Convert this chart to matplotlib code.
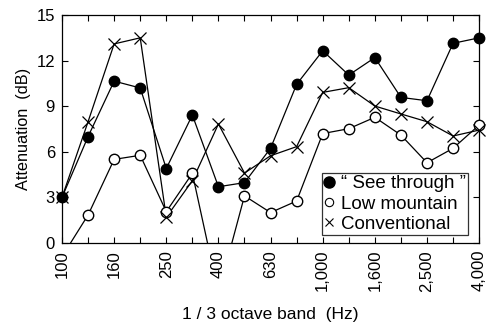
import numpy as np
import matplotlib
matplotlib.use('Agg')
import matplotlib.pyplot as plt
import matplotlib as mpl
from matplotlib.lines import Line2D

mpl.rcParams['font.family'] = ['Liberation Sans', 'DejaVu Sans']

bands = ['100', '125', '160', '200', '250', '315', '400', '500', '630', '800',
         '1,000', '1,250', '1,600', '2,000', '2,500', '3,150', '4,000']
see_through = [3.0, 7.0, 10.65, 10.2, 4.9, 8.42, 3.7, 3.97, 6.23, 10.44,
               12.65, 11.05, 12.2, 9.58, 9.36, 13.14, 13.5]
low_mountain = [-0.9, 1.84, 5.5, 5.77, 2.06, 4.58, -3.3, 3.1, 2.0, 2.76,
                7.2, 7.52, 8.27, 7.1, 5.28, 6.23, 7.76]
conventional = [3.0, 7.98, 13.1, 13.5, 1.69, 4.1, 7.83, 4.6, 5.74, 6.34,
                9.91, 10.22, 9.01, 8.49, 7.98, 7.04, 7.43]
labels = ['\u201c See through \u201d', 'Low mountain', 'Conventional']

fig = plt.figure(figsize=(4.96, 3.27), dpi=100)
ax = fig.add_axes([0.125, 0.257, 0.841, 0.697])
x = np.arange(len(bands))

styles = [
    dict(marker='o', markerfacecolor='black', markeredgecolor='black', markersize=7.5),
    dict(marker='o', markerfacecolor='white', markeredgecolor='black', markersize=7.5),
    dict(marker='x', color='black', markersize=8, markeredgewidth=0.9),
]
for vals, mk in zip([see_through, low_mountain, conventional], styles):
    y = np.array(vals, dtype=float)
    ax.plot(x, y, color='black', lw=0.9, zorder=2)
    ym = np.where(y >= 0, y, np.nan)
    ax.plot(x, ym, linestyle='none', clip_on=False, zorder=3, **mk)

ax.set_xlim(0, 16)
ax.set_ylim(0, 15)
ax.set_yticks([0, 3, 6, 9, 12, 15])
ax.set_xticks(x)
ax.set_xticklabels([b if i % 2 == 0 else '' for i, b in enumerate(bands)], rotation=90, fontsize=12)
ax.tick_params(axis='y', labelsize=12, pad=5)
ax.tick_params(direction='in', length=4, width=0.8, top=True, right=True)
ax.tick_params(axis='x', pad=5)
for s in ax.spines.values():
    s.set_linewidth(0.9)

ax.set_ylabel('Attenuation  (dB)', fontsize=11.7, labelpad=4)
ax.set_xlabel('1 / 3 octave band  (Hz)', fontsize=12.5, labelpad=11)

handles = [
    Line2D([], [], linestyle='none', marker='o', markerfacecolor='black', markeredgecolor='black', markersize=8),
    Line2D([], [], linestyle='none', marker='o', markerfacecolor='white', markeredgecolor='black', markersize=6, markeredgewidth=0.8),
    Line2D([], [], linestyle='none', marker='x', color='black', markersize=6, markeredgewidth=0.8),
]
leg = ax.legend(handles, labels, loc='lower right', fontsize=13.5,
                frameon=True, fancybox=False, edgecolor='black', handlelength=0.5,
                handletextpad=0.4, borderpad=0.12, labelspacing=0.16,
                borderaxespad=0.0, bbox_to_anchor=(0.974, 0.035))
leg.get_frame().set_linewidth(0.9)

fig.savefig('out.png', dpi=100)
